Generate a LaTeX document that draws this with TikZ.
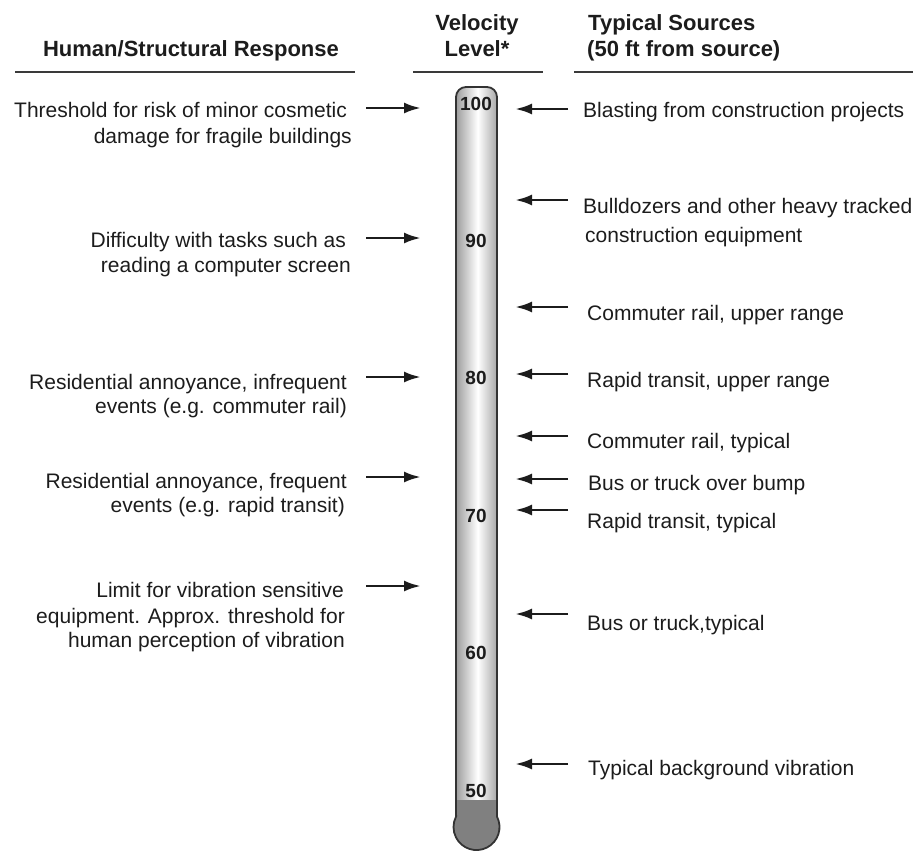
\documentclass[tikz,border=0pt]{standalone}
\usepackage{fontspec}
\setmainfont{Liberation Sans}
\usetikzlibrary{arrows.meta}
\definecolor{txt}{HTML}{1C1C1C}
\definecolor{rulecol}{HTML}{3A3A3A}
\definecolor{tubeedge}{HTML}{8E8E8E}
\definecolor{mercury}{HTML}{808080}
\definecolor{tubeline}{HTML}{333333}
\tikzset{
  lt/.style={anchor=base east, inner sep=0pt, text=txt, font=\fontsize{21}{25}\selectfont},
  rt/.style={anchor=base west, inner sep=0pt, text=txt, font=\fontsize{21}{25}\selectfont},
  hd/.style={inner sep=0pt, text=txt, font=\bfseries\fontsize{22}{26}\selectfont},
  num/.style={anchor=base, inner sep=0pt, text=txt, font=\bfseries\fontsize{19}{21}\selectfont},
  arr/.style={draw=txt, line width=2.8pt, -{Latex[length=17pt,width=11pt]}},
  hrule/.style={draw=rulecol, line width=2.2pt},
  tubestroke/.style={draw=tubeline, line width=1.8pt}
}
\begin{document}
\begin{tikzpicture}[x=1pt,y=-1pt]
\useasboundingbox (0,0) rectangle (915,852);

% headers
\node[hd, anchor=base] (hh) at (191,56) {Human/Structural Response};
\node[hd, anchor=base] (hv1) at (477,30) {Velocity};
\node[hd, anchor=base] (hv2) at (477,56) {Level*};
\node[hd, anchor=base west] (hs1) at (588,30) {Typical Sources};
\node[hd, anchor=base west] (hs2) at (587,56) {(50 ft from source)};
\draw[hrule] (15,72) -- (355,72);
\draw[hrule] (413,72) -- (543,72);
\draw[hrule] (574,72) -- (913,72);

% thermometer
\draw[tubestroke, path picture={
    \shade[left color=tubeedge, right color=tubeedge, middle color=white] (455,80) rectangle (498,805);
    \fill[mercury] (440,800) rectangle (515,860);
  }]
  (456,816.6) -- (456,97) arc[start angle=180, end angle=270, radius=10]
  -- (487,87) arc[start angle=270, end angle=360, radius=10]
  -- (497,816.6) arc[start angle=-27, end angle=207, radius=23] -- cycle;

\foreach \v/\yy in {100/110,90/247.4,80/384.8,70/522.2,60/659.6,50/797}
  \node[num] (n\v) at (476,\yy) {\v};

% left texts
\node[lt] (l1a) at (347,117) {Threshold for risk of minor cosmetic};
\node[lt] (l1b) at (352,143) {damage for fragile buildings};
\node[lt] (l2a) at (346,247) {Difficulty with tasks such as};
\node[lt] (l2b) at (351,272) {reading a computer screen};
\node[lt] (l3a) at (347,389) {Residential annoyance, infrequent};
\node[lt] (l3b) at (347,413) {events (e.g. commuter rail)};
\node[lt] (l4a) at (347,488) {Residential annoyance, frequent};
\node[lt] (l4b) at (345,512) {events (e.g. rapid transit)};
\node[lt] (l5a) at (344,597) {Limit for vibration sensitive};
\node[lt] (l5b) at (345,623) {equipment. Approx. threshold for};
\node[lt] (l5c) at (345,647) {human perception of vibration};

% right texts
\node[rt] (r1) at (583,117) {Blasting from construction projects};
\node[rt] (r2a) at (583,213) {Bulldozers and other heavy tracked};
\node[rt] (r2b) at (585,242) {construction equipment};
\node[rt] (r3) at (587,320) {Commuter rail, upper range};
\node[rt] (r4) at (587,387) {Rapid transit, upper range};
\node[rt] (r5) at (587,448) {Commuter rail, typical};
\node[rt] (r6) at (588,490) {Bus or truck over bump};
\node[rt] (r7) at (587,528) {Rapid transit, typical};
\node[rt] (r8) at (587,630) {Bus or truck,typical};
\node[rt] (r9) at (588,775) {Typical background vibration};

% arrows
\foreach \i/\yy in {1/108,2/238,3/377,4/477,5/586}{
  \coordinate (la\i) at (366,\yy);
  \coordinate (lb\i) at (421,\yy);
  \draw[arr] (la\i) -- (lb\i);
}
\foreach \i/\yy in {1/109,2/200,3/307,4/374,5/436,6/479,7/510,8/614,9/764}{
  \coordinate (ra\i) at (568,\yy);
  \coordinate (rb\i) at (515,\yy);
  \draw[arr] (ra\i) -- (rb\i);
}
\end{tikzpicture}
\end{document}
